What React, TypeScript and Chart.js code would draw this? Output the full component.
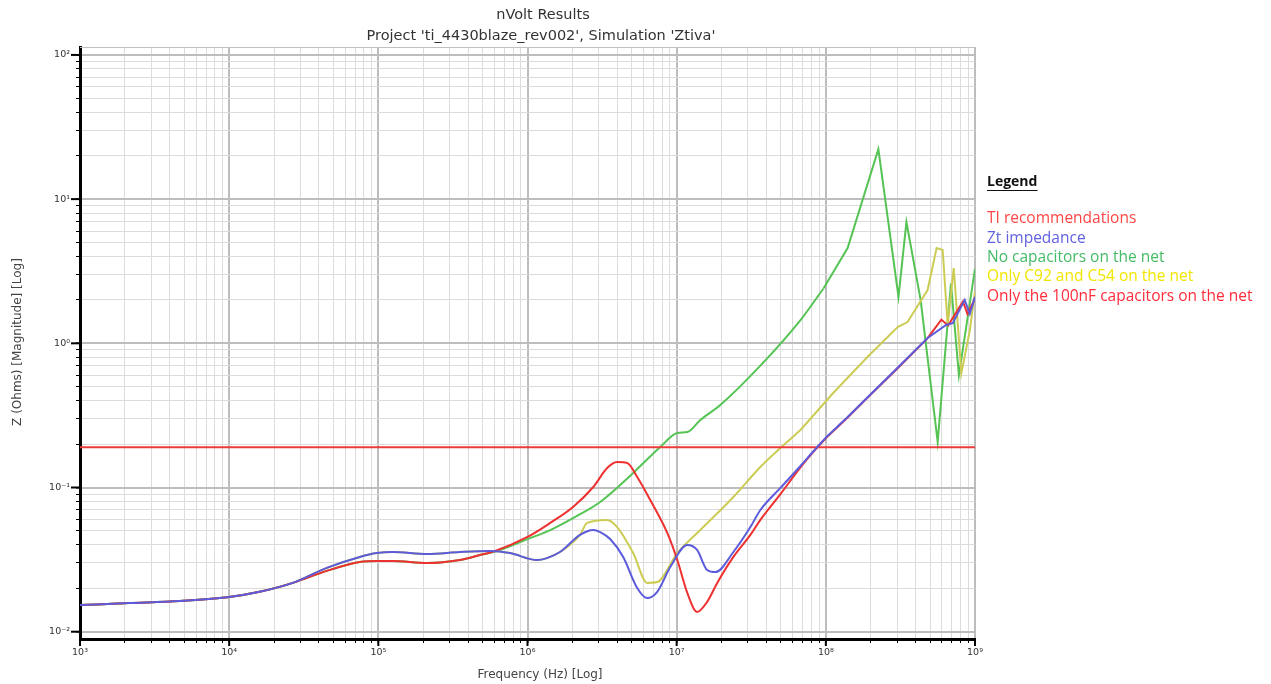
import React, { useEffect, useRef } from 'react';
import { Chart, registerables } from 'chart.js';

Chart.register(...registerables);

const titleLines = ['nVolt Results', "Project 'ti_4430blaze_rev002', Simulation 'Ztiva'"];
const xAxisTitle = 'Frequency (Hz) [Log]';
const yAxisTitle = 'Z (Ohms) [Magnitude] [Log]';
const legendTitle = 'Legend';
const seriesNames = [
  'TI recommendations',
  'Zt impedance',
  'No capacitors on the net',
  'Only C92 and C54 on the net',
  'Only the 100nF capacitors on the net',
];
const lineColors = ['#ee3a3a', '#5b5bdc', '#55c455', '#cccc55', '#ee3030'];
const legendTextColors = ['#ff4646', '#6262e0', '#44bb66', '#f2e600', '#ff2c3c'];

const xMajorTicks = [1e3, 1e4, 1e5, 1e6, 1e7, 1e8, 1e9];
const xTickLabels = ['10³', '10⁴', '10⁵', '10⁶', '10⁷', '10⁸', '10⁹'];
const yMajorTicks = [0.01, 0.1, 1, 10, 100];
const yTickLabels = ['10⁻²', '10⁻¹', '10⁰', '10¹', '10²'];
const xMin = 1e3;
const xMax = 1e9;
const yMin = 0.0089;
const yMax = 113.5;
// above this frequency the simulated curves are drawn with straight segments
const smoothLimitFreq = 1.01e8;

// TI recommendation level
const tiFreq = [1e3, 1e9];
const tiZ = [0.19, 0.19];

// Zt impedance (blue)
const ztFreq = [1e3, 2.14e3, 4.65e3, 1e4, 1.6e4, 2.67e4, 4.51e4, 7.51e4, 9.77e4, 1.25e5, 2.12e5, 3.52e5, 5.61e5, 7.64e5, 1.16e6, 1.35e6, 1.65e6, 2.25e6, 2.76e6, 3.07e6, 3.58e6, 4.38e6, 5.44e6, 6.35e6, 7.41e6, 9.06e6, 1.18e7, 1.37e7, 1.6e7, 1.82e7, 2.4e7, 3.12e7, 3.64e7, 4.96e7, 6.76e7, 8.51e7, 1.01e8, 1.4e8, 1.9e8, 3.03e8, 4.81e8, 6.4e8, 7.09e8, 8.53e8, 9.22e8, 1e9];
const ztZ = [0.0153, 0.0158, 0.0163, 0.0174, 0.0189, 0.0218, 0.0277, 0.033, 0.0351, 0.0357, 0.0346, 0.0357, 0.0363, 0.0351, 0.0314, 0.0324, 0.0357, 0.0469, 0.0507, 0.0491, 0.0439, 0.033, 0.0201, 0.0171, 0.0189, 0.0281, 0.0399, 0.0369, 0.0268, 0.0259, 0.0357, 0.0532, 0.0698, 0.0993, 0.141, 0.185, 0.224, 0.308, 0.421, 0.676, 1.089, 1.34, 1.38, 2.0, 1.6, 2.1];

// No capacitors on the net (green)
const noCapFreq = [1e3, 2.14e3, 4.65e3, 1e4, 1.6e4, 2.67e4, 4.51e4, 7.51e4, 9.77e4, 1.25e5, 2.12e5, 3.52e5, 4.8e5, 6.25e5, 1e6, 1.42e6, 2.02e6, 3.07e6, 5.11e6, 7.76e6, 1.01e7, 1.18e7, 1.44e7, 1.96e7, 3.64e7, 6.76e7, 9.64e7, 1.4e8, 2.25e8, 3.07e8, 3.47e8, 4.32e8, 5.62e8, 6.9e8, 7.8e8, 1e9];
const noCapZ = [0.0153, 0.0158, 0.0163, 0.0174, 0.0189, 0.0218, 0.0264, 0.0304, 0.0309, 0.0309, 0.0299, 0.0314, 0.034, 0.0363, 0.0439, 0.0507, 0.0614, 0.0794, 0.1262, 0.191, 0.2388, 0.2426, 0.294, 0.3733, 0.7, 1.45, 2.4, 4.58, 22.2, 2.1, 6.94, 2.0, 0.207, 2.6, 0.6, 3.3];

// Only C92 and C54 on the net (yellow)
const c92Freq = [1e3, 2.14e3, 4.65e3, 1e4, 1.6e4, 2.67e4, 4.51e4, 7.51e4, 9.77e4, 1.25e5, 2.12e5, 3.52e5, 5.61e5, 7.64e5, 1.16e6, 1.35e6, 1.65e6, 2.25e6, 2.51e6, 3.42e6, 3.99e6, 5.11e6, 6.35e6, 7.41e6, 1.01e7, 1.44e7, 2.4e7, 3.64e7, 6.76e7, 1.12e8, 1.9e8, 3.03e8, 3.53e8, 4.81e8, 5.53e8, 6.07e8, 6.56e8, 7.2e8, 8.1e8, 9.22e8, 1e9];
const c92Z = [0.0153, 0.0158, 0.0163, 0.0174, 0.0189, 0.0218, 0.0277, 0.033, 0.0351, 0.0357, 0.0346, 0.0357, 0.0363, 0.0351, 0.0314, 0.0324, 0.0357, 0.047, 0.0568, 0.0596, 0.0532, 0.0351, 0.0218, 0.0221, 0.0351, 0.0507, 0.0859, 0.1388, 0.2505, 0.452, 0.8035, 1.298, 1.405, 2.343, 4.58, 4.44, 1.34, 3.33, 0.62, 1.22, 2.3];

// Only the 100nF capacitors on the net (red)
const c100Freq = [1e3, 2.14e3, 4.65e3, 1e4, 1.6e4, 2.67e4, 4.51e4, 7.51e4, 9.77e4, 1.25e5, 2.12e5, 3.52e5, 4.8e5, 5.9e5, 1e6, 1.42e6, 2.02e6, 2.76e6, 3.42e6, 3.99e6, 4.66e6, 5.44e6, 6.65e6, 8.65e6, 1.01e7, 1.18e7, 1.37e7, 1.6e7, 1.87e7, 2.4e7, 3.12e7, 3.64e7, 4.96e7, 6.76e7, 8.51e7, 1.01e8, 1.4e8, 1.9e8, 3.03e8, 4.81e8, 5.95e8, 6.6e8, 8.3e8, 8.9e8, 1e9];
const c100Z = [0.0153, 0.0158, 0.0163, 0.0174, 0.0189, 0.0218, 0.0264, 0.0304, 0.0309, 0.0309, 0.0299, 0.0314, 0.034, 0.0359, 0.0454, 0.0568, 0.0733, 0.1008, 0.1365, 0.1503, 0.1479, 0.1183, 0.0819, 0.0484, 0.0314, 0.0185, 0.0137, 0.0161, 0.0218, 0.033, 0.0469, 0.0596, 0.09, 0.138, 0.183, 0.222, 0.306, 0.419, 0.672, 1.085, 1.46, 1.33, 1.95, 1.6, 2.05];

const pts = (xs: number[], ys: number[]) => xs.map((x, i) => ({ x, y: ys[i] }));

const isMajor = (v: number | undefined) => {
  if (!v || v <= 0) return false;
  const l = Math.log10(v);
  return Math.abs(l - Math.round(l)) < 1e-6;
};

const decadeTicks = (majors: number[]) => {
  const out: number[] = [];
  majors.forEach((m, i) => {
    out.push(m);
    if (i < majors.length - 1) for (let k = 2; k <= 9; k++) out.push(m * k);
  });
  return out;
};

const textPlugin = {
  id: 'textPlugin',
  afterDraw(chart: any) {
    const ctx = chart.ctx;
    const ca = chart.chartArea;
    ctx.save();
    ctx.strokeStyle = '#c0c0c0';
    ctx.lineWidth = 1;
    ctx.beginPath();
    ctx.moveTo(ca.left, ca.top + 0.5);
    ctx.lineTo(ca.right, ca.top + 0.5);
    ctx.stroke();
    ctx.strokeStyle = '#000';
    ctx.lineWidth = 2;
    const xs = chart.scales.x;
    const ys = chart.scales.y;
    xMajorTicks.forEach((v) => {
      const px = xs.getPixelForValue(v);
      ctx.beginPath();
      ctx.moveTo(px, ca.bottom);
      ctx.lineTo(px, ca.bottom + 7);
      ctx.stroke();
    });
    yMajorTicks.forEach((v) => {
      const py = ys.getPixelForValue(v);
      ctx.beginPath();
      ctx.moveTo(ca.left, py);
      ctx.lineTo(ca.left - 9, py);
      ctx.stroke();
    });
    ctx.fillStyle = '#333';
    ctx.textAlign = 'center';
    ctx.textBaseline = 'middle';
    ctx.font = '14.5px "DejaVu Sans"';
    ctx.fillText(titleLines[0], 543, 15);
    ctx.fillText(titleLines[1], 541, 36);
    ctx.fillStyle = '#444';
    ctx.font = '12px "DejaVu Sans"';
    ctx.fillText(xAxisTitle, 540, 675);
    ctx.save();
    ctx.translate(18, 342);
    ctx.rotate(-Math.PI / 2);
    ctx.fillText(yAxisTitle, 0, 0);
    ctx.restore();
    const lx = 987;
    ctx.textAlign = 'left';
    ctx.fillStyle = '#111';
    ctx.font = 'bold 14px "Open Sans"';
    ctx.fillText(legendTitle, lx, 182);
    const w = ctx.measureText(legendTitle).width;
    ctx.strokeStyle = '#111';
    ctx.lineWidth = 1;
    ctx.beginPath();
    ctx.moveTo(lx, 190.5);
    ctx.lineTo(lx + w, 190.5);
    ctx.stroke();
    ctx.font = '15.5px "Open Sans"';
    const rowsY = [219, 239, 258, 277, 297];
    seriesNames.forEach((n, i) => {
      ctx.fillStyle = legendTextColors[i];
      ctx.fillText(n, lx, rowsY[i]);
    });
    ctx.restore();
  },
};

export default function App() {
  const ref = useRef<HTMLCanvasElement | null>(null);
  useEffect(() => {
    document.body.style.margin = '0';
    const canvas = ref.current;
    if (!canvas) return;
    const mk = (i: number, data: any[], order: number, mode: string) => ({
      label: seriesNames[i],
      data,
      borderColor: lineColors[i],
      backgroundColor: lineColors[i],
      borderWidth: 2,
      pointRadius: 0,
      showLine: true,
      fill: false,
      tension: mode === 'smooth' ? 0.4 : 0,
      cubicInterpolationMode: mode === 'smooth' ? 'monotone' : 'default',
      order,
    });
    const split = (i: number, xs: number[], ys: number[], order: number) => {
      const all = pts(xs, ys);
      let k = 0;
      all.forEach((p, j) => {
        if (p.x <= smoothLimitFreq) k = j;
      });
      return [mk(i, all.slice(0, k + 1), order, 'smooth'), mk(i, all.slice(k), order, 'linear')];
    };
    const gridColor = (c: any) => (isMajor(c.tick && c.tick.value) ? '#bdbdbd' : '#dcdcdc');
    const gridWidth = (c: any) => (isMajor(c.tick && c.tick.value) ? 2 : 1);
    const chart = new Chart(canvas, {
      type: 'scatter',
      data: {
        datasets: [
          mk(0, pts(tiFreq, tiZ), 3, 'linear'),
          ...split(1, ztFreq, ztZ, 1),
          ...split(2, noCapFreq, noCapZ, 5),
          ...split(3, c92Freq, c92Z, 4),
          ...split(4, c100Freq, c100Z, 2),
        ] as any,
      },
      options: {
        animation: false,
        responsive: false,
        devicePixelRatio: 1,
        layout: { padding: { top: 47, right: 296, bottom: 0, left: 0 } },
        plugins: { legend: { display: false }, title: { display: false }, tooltip: { enabled: false } },
        scales: {
          x: {
            type: 'logarithmic',
            min: xMin,
            max: xMax,
            afterBuildTicks: (s: any) => {
              s.ticks = decadeTicks(xMajorTicks).map((v) => ({ value: v }));
            },
            afterFit: (s: any) => {
              s.height = 45;
            },
            ticks: {
              autoSkip: false,
              maxRotation: 0,
              padding: 4,
              color: '#333',
              font: { family: 'DejaVu Sans', size: 9.5 },
              callback: (v: any) => {
                const idx = xMajorTicks.findIndex((m) => Math.abs(m - v) / m < 1e-6);
                return idx >= 0 ? xTickLabels[idx] : '';
              },
            },
            grid: { color: gridColor, lineWidth: gridWidth, drawTicks: true, tickLength: 4, tickColor: '#000', tickWidth: 1 },
            border: { display: true, color: '#000', width: 3 },
          },
          y: {
            type: 'logarithmic',
            min: yMin,
            max: yMax,
            afterBuildTicks: (s: any) => {
              s.ticks = decadeTicks(yMajorTicks).map((v) => ({ value: v }));
            },
            afterFit: (s: any) => {
              s.width = 80;
            },
            ticks: {
              autoSkip: false,
              padding: 6,
              color: '#333',
              font: { family: 'DejaVu Sans', size: 9.5 },
              callback: (v: any) => {
                const idx = yMajorTicks.findIndex((m) => Math.abs(m - v) / m < 1e-6);
                return idx >= 0 ? yTickLabels[idx] : '';
              },
            },
            grid: { color: gridColor, lineWidth: gridWidth, drawTicks: true, tickLength: 4, tickColor: '#000', tickWidth: 1 },
            border: { display: true, color: '#000', width: 3 },
          },
        },
      } as any,
      plugins: [textPlugin],
    });
    return () => chart.destroy();
  }, []);
  return (
    <div style={{ width: 1271, height: 684, background: '#fff' }}>
      <canvas ref={ref} width={1271} height={684} style={{ display: 'block', width: 1271, height: 684 }} />
    </div>
  );
}
